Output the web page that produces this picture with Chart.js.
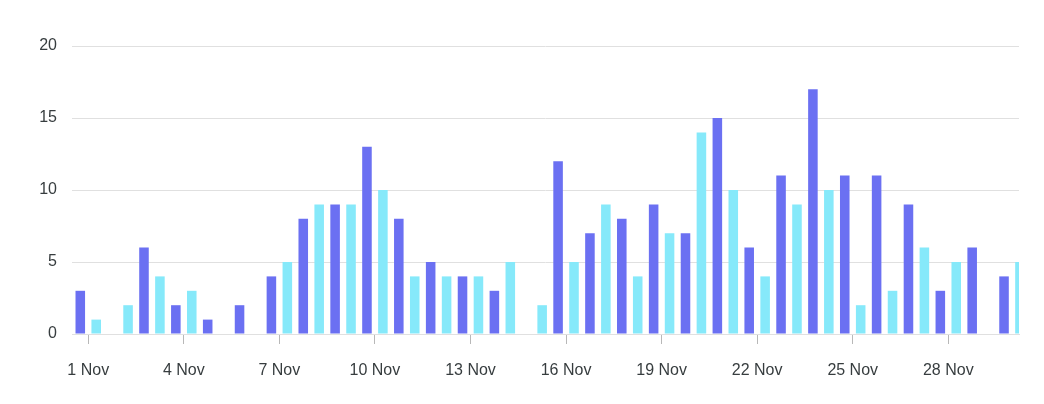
<!DOCTYPE html>
<html>
<head>
<meta charset="utf-8">
<script src="https://cdn.jsdelivr.net/npm/chart.js@4/dist/chart.umd.min.js"></script>
<style>
  html, body { margin: 0; padding: 0; background: #fff; }
  #wrap { width: 1044px; height: 404px; position: relative; }
</style>
</head>
<body>
<div id="wrap"><canvas id="daily-chart"></canvas></div>
<script>
// days of November and the two daily series
const days = [1, 2, 3, 4, 5, 6, 7, 8, 9, 10, 11, 12, 13, 14, 15, 16, 17, 18, 19, 20, 21, 22, 23, 24, 25, 26, 27, 28, 29, 30];
const seriesA = [3, 0, 6, 2, 1, 2, 4, 8, 9, 13, 8, 5, 4, 3, 0, 12, 7, 8, 9, 7, 15, 6, 11, 17, 11, 11, 9, 3, 6, 4];
const seriesB = [1, 2, 4, 3, 0, 0, 5, 9, 9, 10, 4, 4, 4, 5, 2, 5, 9, 4, 7, 14, 10, 4, 9, 10, 2, 3, 6, 5, 0, 5];
const tickDays = [1, 4, 7, 10, 13, 16, 19, 22, 25, 28];
const yTicks = [0, 5, 10, 15, 20];

const textColor = '#373d3f';
const gridColor = '#e0e0e0';
const font = { family: "'Liberation Sans', Arial, sans-serif", size: 16 };

const toPoints = values => days.map((d, i) => ({ x: d, y: values[i] }));

const canvas = document.getElementById('daily-chart');

new Chart(canvas, {
    type: 'bar',
    data: {
        datasets: [{
            label: 'Series A',
            data: toPoints(seriesA),
            backgroundColor: '#6b70f2',
            borderWidth: 0,
            clip: 0
        }, {
            label: 'Series B',
            data: toPoints(seriesB),
            backgroundColor: '#86e9fa',
            borderWidth: 0,
            clip: 0
        }]
    },
    options: {
        responsive: true,
        maintainAspectRatio: false,
        animation: false,
        categoryPercentage: 1,
        barPercentage: 0.6,
        layout: {
            padding: { top: 46, right: 25, bottom: 0, left: 0 }
        },
        plugins: {
            legend: { display: false },
            tooltip: { enabled: false }
        },
        scales: {
            x: {
                type: 'linear',
                offset: false,
                min: 0.49,
                max: 30.22,
                afterBuildTicks: scale => {
                    scale.ticks = tickDays.map(v => ({ value: v }));
                },
                afterFit: scale => { scale.height = 70; },
                ticks: {
                    autoSkip: false,
                    maxRotation: 0,
                    padding: 17,
                    color: textColor,
                    font: font,
                    callback: value => value + ' Nov'
                },
                grid: {
                    offset: false,
                    drawOnChartArea: false,
                    drawTicks: true,
                    tickLength: 10,
                    tickColor: '#b8b8b8'
                },
                border: { display: true, color: gridColor }
            },
            y: {
                min: 0,
                max: 20,
                afterBuildTicks: scale => {
                    scale.ticks = yTicks.map(v => ({ value: v }));
                },
                afterFit: scale => { scale.width = 72; },
                ticks: {
                    padding: 15,
                    color: textColor,
                    font: font
                },
                grid: {
                    color: gridColor,
                    drawTicks: false
                },
                border: { display: false }
            }
        }
    }
});
</script>
</body>
</html>
